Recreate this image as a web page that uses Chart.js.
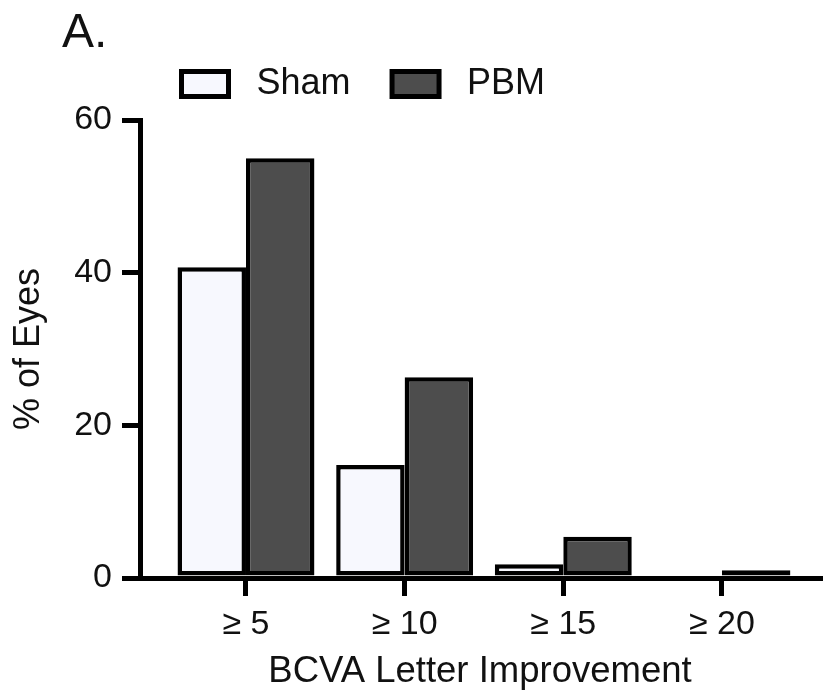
<!DOCTYPE html>
<html>
<head>
<meta charset="utf-8">
<script src="https://cdn.jsdelivr.net/npm/chart.js@4.4.1/dist/chart.umd.min.js"></script>
<style>
    body { margin: 0; background: #fff; }
    #wrap { position: relative; width: 825px; height: 694px; }
    #panel {
        position: absolute; left: 62px; top: 7px;
        font: 48px 'Liberation Sans', Arial, Helvetica, sans-serif;
        line-height: 1; color: #111;
    }
</style>
</head>
<body>
<div id="wrap">
    <canvas id="chart"></canvas>
    <div id="panel">A.</div>
</div>
<script>
// BCVA letter improvement thresholds, % of eyes
const categories = ['≥ 5', '≥ 10', '≥ 15', '≥ 20'];
const sham = [40.7, 14.8, 1.8, 0];
const pbm = [55, 26.3, 5.4, 1.0];
const yTicks = [0, 20, 40, 60];

const FONT = "'Liberation Sans', Arial, Helvetica, sans-serif";

function points(values) {
    // linear x scale so the axes can sit apart from the first group, like the original
    return values.map((v, i) => ({x: i, y: v}));
}

// the legend sits a bit higher above the plot than chart.js leaves room for
const legendLift = {
    id: 'legendLift',
    afterLayout: function(chart) {
        chart.legend.top -= 8;
        chart.legend.bottom -= 8;
    }
};

let ctx = document.getElementById('chart').getContext('2d');
new Chart(ctx, {
    type: 'bar',
    data: {
        datasets: [
            {
                label: 'Sham',
                data: points(sham),
                backgroundColor: '#f7f8fe',
                borderColor: '#000',
                borderWidth: 4.5,
                borderSkipped: false
            },
            {
                label: 'PBM',
                data: points(pbm),
                backgroundColor: '#4d4d4d',
                borderColor: '#000',
                borderWidth: 4.5,
                borderSkipped: false
            }
        ]
    },
    plugins: [legendLift],
    options: {
        responsive: true,
        maintainAspectRatio: false,
        animation: false,
        layout: {padding: {top: 32.5, left: 0, right: 5, bottom: 0}},
        categoryPercentage: 0.863,
        barPercentage: 1,
        plugins: {
            tooltip: {enabled: false},
            legend: {
                position: 'top',
                align: 'start',
                fullSize: false,
                labels: {
                    color: '#111',
                    font: {family: FONT, size: 36},
                    boxWidth: 47,
                    boxHeight: 25,
                    padding: 41.5,
                    generateLabels: function(chart) {
                        let items = Chart.defaults.plugins.legend.labels.generateLabels(chart);
                        return items.map(e => Object.assign(e, {text: ' ' + e.text, lineWidth: 5}));
                    }
                }
            }
        },
        scales: {
            x: {
                type: 'linear',
                offset: false,
                min: -0.668,
                max: 3.618,
                afterFit: function(scale) { scale.height = 116; },
                afterBuildTicks: function(scale) {
                    scale.ticks = categories.map((c, i) => ({value: i}));
                },
                ticks: {
                    color: '#111',
                    font: {family: FONT, size: 34},
                    padding: 8,
                    callback: function(v) { return categories[v]; }
                },
                grid: {
                    offset: false,
                    drawOnChartArea: false,
                    drawTicks: true,
                    tickLength: 18,
                    lineWidth: 5,
                    color: '#000'
                },
                border: {display: true, width: 5, color: '#000'},
                title: {
                    display: true,
                    text: 'BCVA Letter Improvement',
                    color: '#111',
                    font: {family: FONT, size: 36.5},
                    padding: {top: 0, bottom: 0}
                }
            },
            y: {
                min: 0,
                max: 60,
                afterFit: function(scale) { scale.width = 140; },
                afterBuildTicks: function(scale) {
                    scale.ticks = yTicks.map(v => ({value: v}));
                },
                ticks: {
                    color: '#111',
                    font: {family: FONT, size: 34},
                    padding: 10
                },
                grid: {
                    drawOnChartArea: false,
                    drawTicks: true,
                    tickLength: 18,
                    lineWidth: 5,
                    color: '#000'
                },
                border: {display: true, width: 5, color: '#000'},
                title: {
                    display: true,
                    text: '% of Eyes',
                    color: '#111',
                    font: {family: FONT, size: 36},
                    padding: {top: 7, bottom: 0}
                }
            }
        }
    }
});
</script>
</body>
</html>
